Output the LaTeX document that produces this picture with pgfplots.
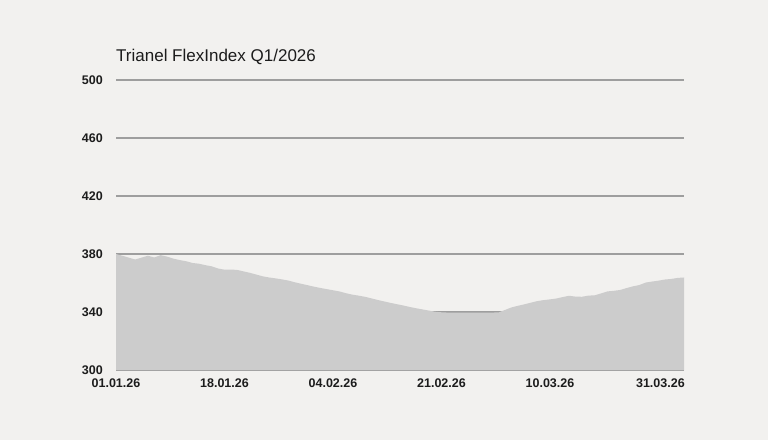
\documentclass[border=0pt]{standalone}
\usepackage{fontspec}
\setmainfont{Liberation Sans}
\usepackage{pgfplots}
\pgfplotsset{compat=1.18}
\definecolor{bg}{HTML}{F2F1EF}
\definecolor{areagray}{HTML}{CCCCCC}
\definecolor{gridgray}{HTML}{9E9E9E}
\definecolor{txt}{HTML}{1C1C1C}

\begin{document}
\begin{tikzpicture}
\fill[bg] (0,0) rectangle (768pt,440pt);
\node[anchor=base west, inner sep=0pt, text=txt, font=\fontsize{17}{20}\selectfont]
  at (116pt,378pt) {Trianel FlexIndex Q1/2026};
\begin{axis}[
    at={(116pt,70pt)}, anchor=south west,
    scale only axis,
    width=568pt, height=290pt,
    xmin=0, xmax=89,
    ymin=300, ymax=500,
    ytick={300,340,380,420,460,500},
    % last label sits inside the right edge
    xtick={0,17,34,51,68,85.3},
    xticklabels={01.01.26,18.01.26,04.02.26,21.02.26,10.03.26,31.03.26},
    ymajorgrids,
    grid style={gridgray, line width=1.1pt},
    axis line style={draw=none},
    tick style={draw=none},
    /pgf/number format/assume math mode=true,
    ticklabel style={text=txt, font=\bfseries\fontsize{12.5}{14}\selectfont, inner sep=0pt},
    yticklabel style={anchor=east, xshift=-13pt},
    xticklabel style={anchor=north, yshift=-9pt},
]
\addplot[fill=areagray, draw=none] table {
x y
0 380
1 378.8
2 377.5
3 376.2
4 377.5
5 378.8
6 377.6
7 379.2
8 378.2
9 376.8
10 375.8
11 375.0
12 373.8
13 373.3
14 372.3
15 371.5
16 370.0
17 369.2
18 369.3
19 369.0
20 368.0
21 367.0
22 365.8
23 364.6
24 363.8
25 363.2
26 362.5
27 361.7
28 360.5
29 359.5
30 358.5
31 357.5
32 356.6
33 355.8
34 355.0
35 354.2
36 353.0
37 352.0
38 351.3
39 350.5
40 349.4
41 348.3
42 347.3
43 346.3
44 345.4
45 344.5
46 343.5
47 342.6
48 341.8
49 341.0
50 340.2
51 339.8
52 339.6
53 339.6
54 339.6
55 339.6
56 339.6
57 339.6
58 339.6
59 339.6
60 339.8
61 341.5
62 343.2
63 344.3
64 345.3
65 346.4
66 347.5
67 348.2
68 348.7
69 349.3
70 350.3
71 351.2
72 350.6
73 350.5
74 351.3
75 351.5
76 352.8
77 354.2
78 354.6
79 355.2
80 356.5
81 357.7
82 358.6
83 360.3
84 361.0
85 361.6
86 362.4
87 362.8
88 363.5
89 363.8
} \closedcycle;
\end{axis}
\end{tikzpicture}
\end{document}
